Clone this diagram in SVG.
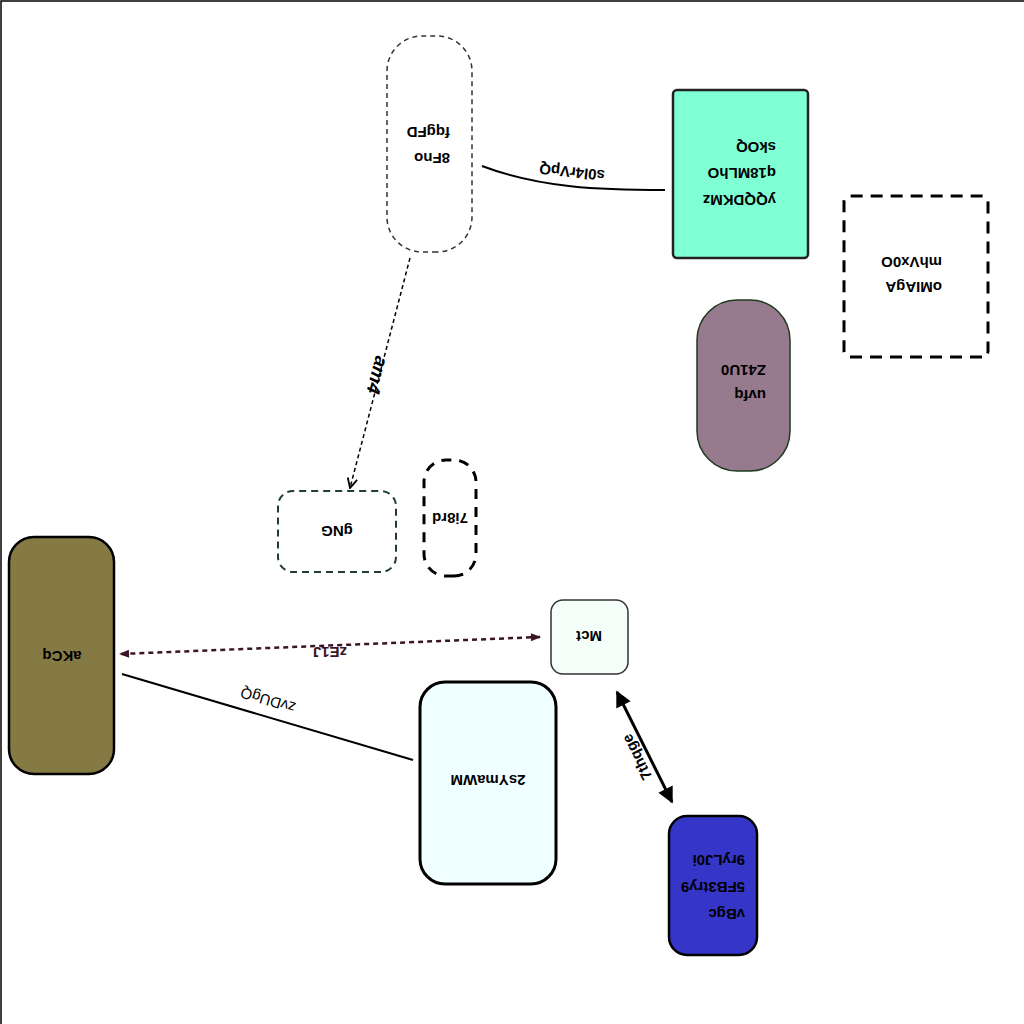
<svg xmlns="http://www.w3.org/2000/svg" width="1024" height="1024" viewBox="0 0 1024 1024">
<style>
.t{font-family:"Liberation Sans",Arial,sans-serif;font-size:15px;font-weight:bold;fill:#000}
.c{text-anchor:middle}
.el{font-family:"Liberation Sans",Arial,sans-serif;font-size:15px;fill:#000}
.b{font-weight:bold}
</style>
<defs>
<marker id="open" viewBox="0 0 10 10" refX="9" refY="5" markerWidth="12" markerHeight="12" markerUnits="userSpaceOnUse" orient="auto-start-reverse"><path d="M1,1 L9,5 L1,9" fill="none" stroke="#000" stroke-width="1.5"/></marker>
<marker id="small" viewBox="0 0 10 10" refX="9" refY="5" markerWidth="11" markerHeight="10" markerUnits="userSpaceOnUse" orient="auto-start-reverse"><path d="M0,1 L10,5 L0,9 Z" fill="#3b1526"/></marker>
<marker id="big" viewBox="0 0 10 10" refX="9" refY="5" markerWidth="18" markerHeight="16" markerUnits="userSpaceOnUse" orient="auto-start-reverse"><path d="M0,0 L10,5 L0,10 Z" fill="#000"/></marker>
</defs>
<rect width="1024" height="1024" fill="#fff"/>
<g transform="rotate(180 512 512)">
<rect x="-10" y="-10" width="1033" height="1033" fill="none" stroke="#000" stroke-width="1.5"/>
<g id="connectors">
<path d="M359,834 C424,834 484,836 542,858" fill="none" stroke="#000" stroke-width="2"/>
<text class="el c b" transform="rotate(6 452 852)" x="452" y="857">s0l4rVpQ</text>
<path d="M614,766 L674,536" fill="none" stroke="#000" stroke-width="1.5" stroke-dasharray="4,3" marker-end="url(#open)"/>
<text class="el c b" transform="rotate(-75.4 647 649)" x="647" y="655" style="font-size:19px;font-style:italic">am4</text>
<path d="M484,387 L904,370" fill="none" stroke="#3b1526" stroke-width="2.5" stroke-dasharray="5,4" marker-start="url(#small)" marker-end="url(#small)"/>
<text class="el c b" x="694" y="377" style="fill:#3b1526">zE1J</text>
<path d="M611,264 L902,350" fill="none" stroke="#000" stroke-width="2"/>
<text class="el c" transform="rotate(16.5 756 324)" x="756" y="329">zvDUgQ</text>
<path d="M352,222 L407,332" fill="none" stroke="#000" stroke-width="3" marker-start="url(#big)" marker-end="url(#big)"/>
<text class="el c b" transform="rotate(63.4 387 267)" x="387" y="272">7thqge</text>
</g>
<g id="n1">
<rect x="552" y="772" width="85" height="216" rx="35" fill="#fff" stroke="#333" stroke-width="1.5" stroke-dasharray="5,4"/>
<text class="t" x="574" y="871">8Fno</text>
<text class="t" x="574" y="897">fqgFD</text>
</g>
<g id="n2">
<rect x="216" y="766" width="135" height="168" rx="4" fill="#7fffd4" stroke="#222" stroke-width="2.5"/>
<text class="t" x="248" y="829">yQQDKMz</text>
<text class="t" x="248" y="856">q18MLhO</text>
<text class="t" x="248" y="882">skOQ</text>
</g>
<g id="n3">
<rect x="36" y="667" width="144" height="161" rx="6" fill="#fff" stroke="#000" stroke-width="3" stroke-dasharray="12,8"/>
<text class="t" x="82" y="742">oMIAgA</text>
<text class="t" x="82" y="767">mhVx0O</text>
</g>
<g id="n4">
<rect x="234" y="553" width="93" height="171" rx="40" fill="#977a8e" stroke="#1e3b1e" stroke-width="1.5"/>
<text class="t" x="258" y="634">uvfq</text>
<text class="t" x="258" y="659">Z41U0</text>
</g>
<g id="n5">
<rect x="628" y="452" width="118" height="81" rx="15" fill="#fff" stroke="#1f3d33" stroke-width="2" stroke-dasharray="7,5"/>
<text class="t c" x="687" y="498">gNG</text>
</g>
<g id="n6">
<rect x="548" y="448" width="52" height="116" rx="22" fill="#fff" stroke="#000" stroke-width="3" stroke-dasharray="10,8"/>
<text class="t c" x="574" y="511">7i8rd</text>
</g>
<g id="n7">
<rect x="910" y="250" width="105" height="237" rx="25" fill="#867a44" stroke="#000" stroke-width="2.5"/>
<text class="t c" x="962" y="373">aKCq</text>
</g>
<g id="n8">
<rect x="396" y="350" width="77" height="74" rx="12" fill="#f3fff8" stroke="#333" stroke-width="1.5"/>
<text class="t c" x="435" y="393">Mct</text>
</g>
<g id="n9">
<rect x="468" y="140" width="136" height="202" rx="25" fill="#f0ffff" stroke="#000" stroke-width="3"/>
<text class="t c" x="536" y="249">2sYmaWM</text>
</g>
<g id="n10">
<rect x="267" y="69" width="88" height="139" rx="18" fill="#3535c8" stroke="#000" stroke-width="2.5"/>
<text class="t" x="279" y="115">vBgc</text>
<text class="t" x="279" y="142">5FB3try9</text>
<text class="t" x="279" y="169">9ryLJ0i</text>
</g>
</g>
</svg>
